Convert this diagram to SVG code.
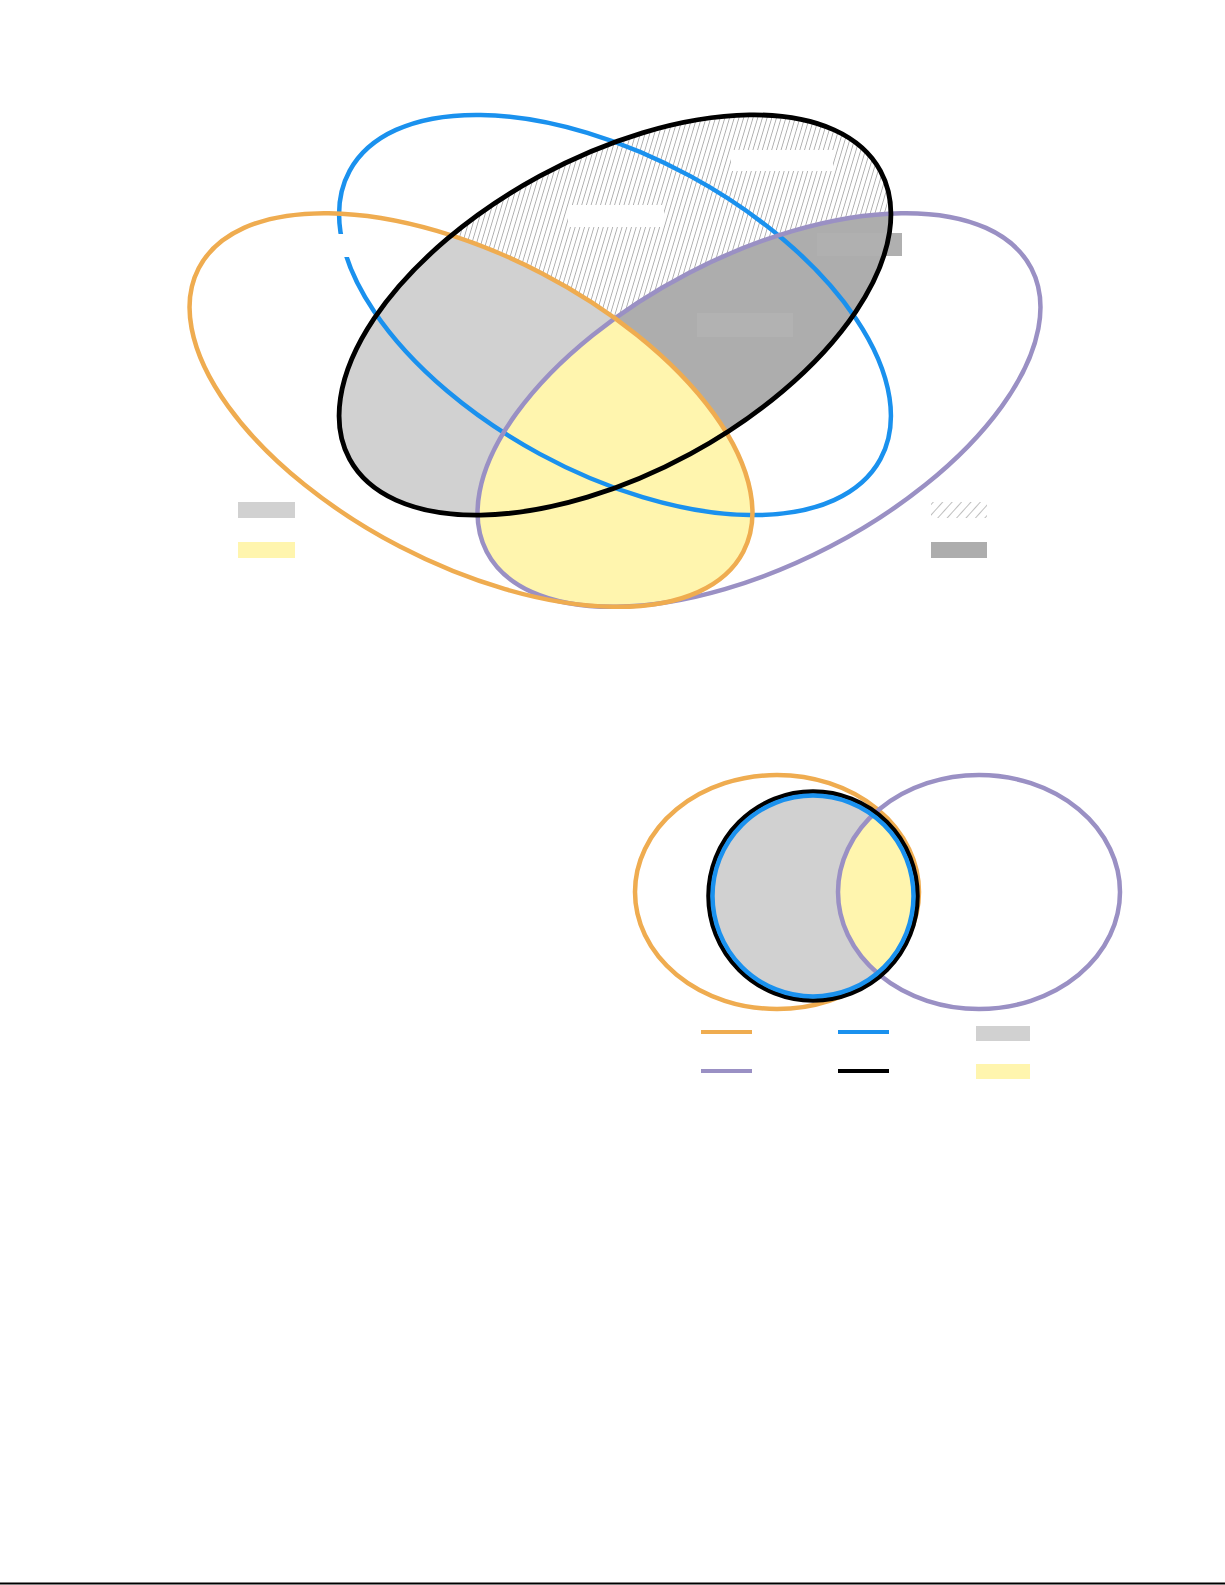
<svg xmlns="http://www.w3.org/2000/svg" width="1225" height="1585" viewBox="0 0 1225 1585">
<style>
.ring{fill:none;stroke-width:4.5}
.or{stroke:#efac50}
.bl{stroke:#1a91ee}
.pu{stroke:#9a90c4}
.bk{stroke:#000;stroke-width:4.8}
.lg{fill:#d1d1d1}
.dg{fill:#adadad}
.yl{fill:#fff5ae}
</style>
<defs>
<pattern id="hatch" patternUnits="userSpaceOnUse" width="4.5" height="4.5" patternTransform="rotate(45)">
<rect width="4.5" height="4.5" fill="#fff"/>
<line x1="0" y1="0" x2="0" y2="4.5" stroke="#7a7a7a" stroke-width="1.1"/>
</pattern>
<pattern id="hatch2" patternUnits="userSpaceOnUse" width="7" height="7" patternTransform="rotate(42)">
<rect width="7" height="7" fill="#fff"/>
<line x1="0" y1="0" x2="0" y2="7" stroke="#8a8a8a" stroke-width="1.1"/>
</pattern>
<ellipse id="eOr" cx="471" cy="410" rx="307" ry="154" transform="rotate(27.5 471 410)"/>
<ellipse id="ePu" cx="759" cy="410" rx="307" ry="154" transform="rotate(-27.5 759 410)"/>
<ellipse id="eBk" cx="615" cy="315" rx="302" ry="158" transform="rotate(-28.5 615 315)"/>
<ellipse id="eBl" cx="615" cy="315" rx="302" ry="158" transform="rotate(28.5 615 315)"/>
<clipPath id="cBk"><use href="#eBk"/></clipPath>
<clipPath id="cOr"><use href="#eOr"/></clipPath>
<clipPath id="cCirc"><circle cx="813" cy="896" r="104"/></clipPath>
</defs>

<g id="top-fills">
<use href="#eBk" fill="url(#hatch)"/>
<g clip-path="url(#cBk)">
<use href="#eOr" class="lg"/>
<use href="#ePu" class="dg"/>
</g>
<g clip-path="url(#cOr)">
<use href="#ePu" class="yl"/>
</g>
</g>

<g id="top-labels">
<rect x="568" y="205" width="96" height="22" fill="#fff"/>
<rect x="731" y="150" width="102" height="21" fill="#fff"/>
<rect x="817" y="233" width="85" height="23" fill="#b0b0b0"/>
<rect x="697" y="313" width="96" height="24" fill="#b2b2b2"/>
</g>

<g id="set-blue"><use href="#eBl" class="ring bl"/></g>
<rect x="300" y="234" width="50" height="23" fill="#fff"/>
<g id="set-purple"><use href="#ePu" class="ring pu"/></g>
<g id="set-orange"><use href="#eOr" class="ring or"/></g>
<g id="set-black"><use href="#eBk" class="ring bk"/></g>

<g id="top-legend">
<rect x="238" y="502" width="57" height="16" class="lg"/>
<rect x="238" y="542" width="57" height="16" class="yl"/>
<rect x="931" y="502" width="56" height="16" fill="url(#hatch2)"/>
<rect x="931" y="542" width="56" height="16" class="dg"/>
</g>

<g id="bottom-fills">
<circle cx="813" cy="896" r="104" class="lg"/>
<g clip-path="url(#cCirc)">
<ellipse cx="979" cy="892" rx="141" ry="117" class="yl"/>
</g>
</g>
<g id="b-orange"><ellipse cx="777" cy="892" rx="142" ry="117" class="ring or" stroke-width="3.8"/></g>
<g id="b-purple"><ellipse cx="979" cy="892" rx="141" ry="117" class="ring pu" stroke-width="3.8"/></g>
<g id="b-black"><circle cx="813" cy="896" r="104.5" class="ring" stroke="#000" stroke-width="4.2"/></g>
<g id="b-blue"><circle cx="813" cy="896" r="100.5" class="ring bl" stroke-width="3.8"/></g>

<g id="bottom-legend">
<line x1="701" y1="1032" x2="752" y2="1032" class="or" stroke-width="4"/>
<line x1="838" y1="1032" x2="889" y2="1032" class="bl" stroke-width="4"/>
<rect x="976" y="1026" width="54" height="15" class="lg"/>
<line x1="701" y1="1071" x2="752" y2="1071" class="pu" stroke-width="4"/>
<line x1="838" y1="1071" x2="889" y2="1071" stroke="#000" stroke-width="4"/>
<rect x="976" y="1064" width="54" height="15" class="yl"/>
</g>

<line x1="0" y1="1583.5" x2="1225" y2="1583.5" stroke="#000" stroke-width="2"/>
</svg>
